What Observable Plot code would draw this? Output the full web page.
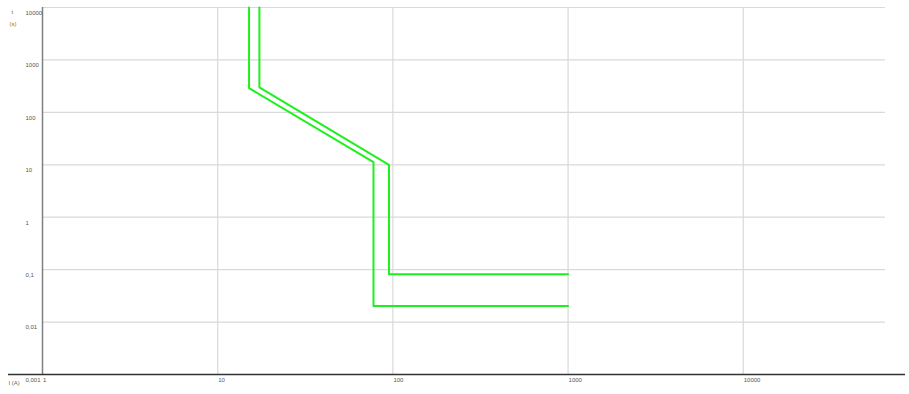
<!DOCTYPE html>
<html>
<head>
<meta charset="utf-8">
<script src="https://cdn.jsdelivr.net/npm/d3@7"></script>
<script src="https://cdn.jsdelivr.net/npm/@observablehq/plot@0.6"></script>
<style>
  html, body { margin: 0; padding: 0; background: #fff; }
  svg { display: block; }
</style>
</head>
<body>
<div id="chart"></div>
<script>
// Tick values
const xTicks = [1, 10, 100, 1000, 10000];
const yTicks = [0.001, 0.01, 0.1, 1, 10, 100, 1000, 10000];

// Curve A (lower / left trip curve)
const curveA_I = [15.1, 15.1, 77.5, 77.5, 1000];
const curveA_t = [10000, 290, 11.2, 0.0203, 0.0203];

// Curve B (upper / right trip curve)
const curveB_I = [17.3, 17.3, 95, 95, 1000];
const curveB_t = [10000, 300, 10, 0.0817, 0.0817];

const xMax = Math.pow(10, 4.926);
const gridEnd = Math.pow(10, 4.811);
const axisStart = Math.pow(10, -0.194);

const toPts = (I, t) => I.map((v, i) => ({I: v, t: t[i]}));
const ptsA = toPts(curveA_I, curveA_t);
const ptsB = toPts(curveB_I, curveB_t);

const fmt = d => String(d).replace(".", ",");

const chart = Plot.plot({
  width: 909,
  height: 394,
  marginLeft: 42,
  marginRight: 4,
  marginTop: 7,
  marginBottom: 20,
  style: {fontFamily: "Liberation Sans, Arial, sans-serif", background: "#fff", color: "#555"},
  x: {type: "log", domain: [1, xMax], axis: null},
  y: {type: "log", domain: [0.001, 10000], axis: null},
  marks: [
    // grid
    Plot.ruleY(yTicks.filter(d => d > 0.001), {y: d => d, x1: 1, x2: gridEnd, stroke: "#d9d9d9", strokeWidth: 1.2}),
    Plot.ruleX(xTicks.filter(d => d > 1), {x: d => d, y1: 0.001, y2: 10000, stroke: "#d9d9d9", strokeWidth: 1.2}),
    // axes lines
    Plot.ruleX([1], {y1: 0.001, y2: 10000, stroke: "#7f7f7f", strokeWidth: 1.5}),
    Plot.ruleY([0.001], {x1: axisStart, x2: xMax, stroke: "#333", strokeWidth: 1.5}),
    // tick labels
    Plot.axisY(yTicks, {anchor: "left", tickSize: 0, tickPadding: 0, textAnchor: "start", dx: -17, dy: 5.5,
      tickFormat: fmt, fontSize: 6, fill: "#555", label: null}),
    Plot.axisX(xTicks, {anchor: "bottom", tickSize: 0, tickPadding: 3.5, textAnchor: "start", dx: 0.5,
      tickFormat: fmt, fontSize: 6, fill: "#555", label: null}),
    // axis titles
    Plot.text(["t"], {frameAnchor: "top-left", dx: -31, dy: 2.5, text: d => d, fontSize: 6, fill: "#666", textAnchor: "start"}),
    Plot.text(["(s)"], {frameAnchor: "top-left", dx: -33, dy: 14, text: d => d, fontSize: 6, fill: "#a0702a", textAnchor: "start"}),
    Plot.text(["I (A)"], {frameAnchor: "bottom-left", dx: -34, dy: 10, text: d => d, fontSize: 6, fill: "#666", textAnchor: "start"}),
    // curves
    Plot.line(ptsA, {x: "I", y: "t", stroke: "#1ef01e", strokeWidth: 2, curve: "linear"}),
    Plot.line(ptsB, {x: "I", y: "t", stroke: "#1ef01e", strokeWidth: 2, curve: "linear"})
  ]
});
document.getElementById("chart").appendChild(chart);
</script>
</body>
</html>
